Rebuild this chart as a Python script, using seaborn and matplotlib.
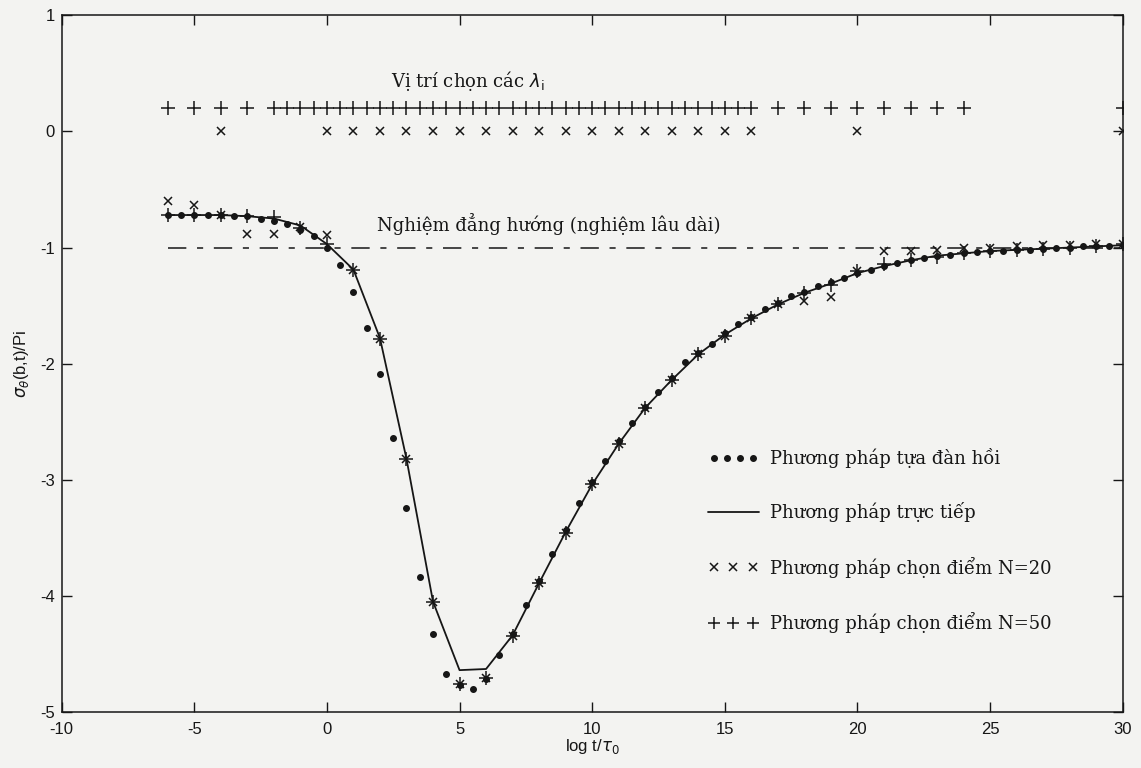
import numpy as np
import matplotlib
matplotlib.use("Agg")
import matplotlib.pyplot as plt
import seaborn as sns
from matplotlib.lines import Line2D
from matplotlib.legend_handler import HandlerLine2D


# DATA

# integer evaluation points on log t / tau0
x_int = [-6, -5, -4, -3, -2, -1, 0, 1, 2, 3, 4, 5, 6, 7, 8, 9, 10, 11, 12,
         13, 14, 15, 16, 17, 18, 19, 20, 21, 22, 23, 24, 25, 26, 27, 28, 29, 30]

# direct method (solid line)
direct = [-0.72, -0.72, -0.72, -0.73, -0.75, -0.81, -0.97, -1.19, -1.78,
          -2.82, -4.05, -4.64, -4.63, -4.34, -3.89, -3.45, -3.04, -2.69,
          -2.38, -2.14, -1.92, -1.75, -1.61, -1.49, -1.39, -1.31, -1.22,
          -1.16, -1.11, -1.07, -1.05, -1.03, -1.02, -1.01, -1.00, -0.99, -0.98]

# collocation method N=50 (+)
colloc50 = [-0.72, -0.72, -0.72, -0.73, -0.74, -0.83, -0.97, -1.19, -1.79,
            -2.82, -4.05, -4.76, -4.71, -4.35, -3.89, -3.46, -3.04, -2.69,
            -2.38, -2.14, -1.92, -1.76, -1.61, -1.49, -1.39, -1.32, -1.20,
            -1.14, -1.11, -1.08, -1.05, -1.03, -1.02, -1.01, -1.00, -0.99, -0.97]

# collocation method N=20 (x)
colloc20 = [-0.60, -0.63, -0.72, -0.88, -0.88, -0.82, -0.89, -1.19, -1.79,
            -2.82, -4.05, -4.76, -4.71, -4.35, -3.89, -3.46, -3.04, -2.69,
            -2.38, -2.14, -1.92, -1.76, -1.61, -1.49, -1.46, -1.43, -1.20,
            -1.03, -1.03, -1.02, -1.00, -1.00, -0.99, -0.98, -0.98, -0.97, -0.97]

# quasi-elastic method (dots), every half unit
x_half = [-6, -5.5, -5, -4.5, -4, -3.5, -3, -2.5, -2, -1.5, -1, -0.5, 0, 0.5,
          1, 1.5, 2, 2.5, 3, 3.5, 4, 4.5, 5, 5.5, 6, 6.5, 7, 7.5, 8, 8.5, 9,
          9.5, 10, 10.5, 11, 11.5, 12, 12.5, 13, 13.5, 14, 14.5, 15, 15.5, 16,
          16.5, 17, 17.5, 18, 18.5, 19, 19.5, 20, 20.5, 21, 21.5, 22, 22.5, 23,
          23.5, 24, 24.5, 25, 25.5, 26, 26.5, 27, 27.5, 28, 28.5, 29, 29.5, 30]
quasi = [-0.72, -0.72, -0.72, -0.72, -0.72, -0.73, -0.73, -0.75, -0.77, -0.80,
         -0.85, -0.90, -1.00, -1.15, -1.38, -1.69, -2.09, -2.64, -3.24, -3.84,
         -4.33, -4.67, -4.77, -4.80, -4.72, -4.51, -4.33, -4.08, -3.87, -3.64,
         -3.43, -3.20, -3.02, -2.84, -2.67, -2.51, -2.37, -2.24, -2.12, -1.99,
         -1.91, -1.83, -1.74, -1.66, -1.60, -1.53, -1.48, -1.42, -1.38, -1.33,
         -1.30, -1.26, -1.22, -1.19, -1.16, -1.13, -1.11, -1.09, -1.07, -1.06,
         -1.05, -1.04, -1.03, -1.03, -1.02, -1.02, -1.01, -1.00, -1.00, -0.99,
         -0.99, -0.99, -0.98]

# chosen lambda positions
lam50 = [-6, -5, -4, -3,
         -2, -1.5, -1, -0.5, 0, 0.5, 1, 1.5, 2, 2.5, 3, 3.5, 4, 4.5, 5, 5.5,
         6, 6.5, 7, 7.5, 8, 8.5, 9, 9.5, 10, 10.5, 11, 11.5, 12, 12.5, 13,
         13.5, 14, 14.5, 15, 15.5, 16,
         17, 18, 19, 20, 21, 22, 23, 24, 30]
lam20 = [-4, 0, 1, 2, 3, 4, 5, 6, 7, 8, 9, 10, 11, 12, 13, 14, 15, 16, 20, 30]
lam50_row = 0.2
lam20_row = 0.0

# long-term isotropic solution
iso_x = [-6, 30]
iso_y = [-1, -1]


# PLOT

sns.set_theme(style="ticks")
plt.rcParams['font.family'] = ['Liberation Sans', 'DejaVu Sans']
plt.rcParams['mathtext.fontset'] = 'dejavusans'
plt.rcParams['axes.unicode_minus'] = False
ink = '#161616'
paper = '#f3f3f1'

fig = plt.figure(figsize=(11.41, 7.68), dpi=100, facecolor=paper)
ax = fig.add_axes([0.054, 0.073, 0.930, 0.907], facecolor=paper)

sns.lineplot(x=x_int, y=direct, ax=ax, color=ink, linewidth=1.3)
ax.plot(iso_x, iso_y, color=ink, linewidth=1.1, linestyle=(0, (12, 7, 4, 7)))

ax.plot(x_half, quasi, linestyle='none', marker='o', markersize=4,
        color=ink)
ax.plot(x_int, colloc20, linestyle='none', marker='x', markersize=6,
        markeredgewidth=1.1, color=ink)
ax.plot(x_int, colloc50, linestyle='none', marker='+', markersize=10,
        markeredgewidth=1.1, color=ink)

ax.plot(lam50, [lam50_row] * len(lam50), linestyle='none', marker='+',
        markersize=10, markeredgewidth=1.1, color=ink)
ax.plot(lam20, [lam20_row] * len(lam20), linestyle='none', marker='x',
        markersize=6, markeredgewidth=1.1, color=ink)

serif = ['DejaVu Serif']
ax.text(2.4, 0.38, r'Vị trí chọn các $\lambda_{\mathrm{i}}$', fontsize=13,
        family=serif, color=ink, va='baseline')
ax.text(1.9, -0.86, 'Nghiệm đẳng hướng (nghiệm lâu dài)', fontsize=13,
        family=serif, color=ink, va='baseline')

# legend
h_dot = Line2D([], [], linestyle='none', marker='o', markersize=4, color=ink)
h_line = Line2D([], [], color=ink, linewidth=1.3)
h_x = Line2D([], [], linestyle='none', marker='x', markersize=6,
             markeredgewidth=1.1, color=ink)
h_plus = Line2D([], [], linestyle='none', marker='+', markersize=8,
                markeredgewidth=1.1, color=ink)
ax.legend([h_dot, h_line, h_x, h_plus],
          ['Phương pháp tựa đàn hồi', 'Phương pháp trực tiếp',
           'Phương pháp chọn điểm N=20', 'Phương pháp chọn điểm N=50'],
          handler_map={h_dot: HandlerLine2D(numpoints=4),
                       h_x: HandlerLine2D(numpoints=3),
                       h_plus: HandlerLine2D(numpoints=3)},
          loc='upper left', bbox_to_anchor=(0.594, 0.402), frameon=False,
          prop={'family': serif, 'size': 13}, labelspacing=1.9,
          handlelength=2.8, handletextpad=0.6, labelcolor=ink)

ax.set_xlim(-10, 30)
ax.set_ylim(-5, 1)
ax.set_xticks(range(-10, 31, 5))
ax.set_yticks(range(-5, 2))
ax.tick_params(direction='in', top=True, right=True, length=7, width=1,
               labelsize=12, colors=ink)
ax.tick_params(axis='x', pad=7)
ax.tick_params(axis='y', pad=5)
for s in ax.spines.values():
    s.set_color(ink)
    s.set_linewidth(1.1)

ax.set_xlabel(r'log t/$\tau_0$', fontsize=12, color=ink, labelpad=0)
ax.set_ylabel(r'$\sigma_\theta$(b,t)/Pi', fontsize=12, color=ink, labelpad=6)

fig.savefig('out.png', dpi=100, facecolor=paper)
